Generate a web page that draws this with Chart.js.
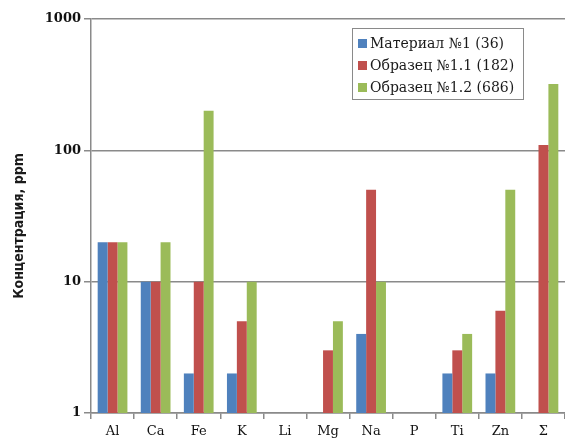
<!DOCTYPE html>
<html>
<head>
<meta charset="utf-8">
<script src="https://cdn.jsdelivr.net/npm/chart.js@4.4.0/dist/chart.umd.min.js"></script>
<style>
  html, body { margin: 0; padding: 0; background: #fff; }
  #wrap { width: 565px; height: 441px; }
</style>
</head>
<body>
<div id="wrap"><canvas id="chart" width="565" height="441"></canvas></div>
<script>
// Element concentrations, ppm (log scale)
const elements = ['Al', 'Ca', 'Fe', 'K', 'Li', 'Mg', 'Na', 'P', 'Ti', 'Zn', 'Σ'];
const material1 = [20, 10, 2, 2, null, null, 4, null, 2, 2, null];
const sample11 = [20, 10, 10, 5, null, 3, 50, null, 3, 6, 110];
const sample12 = [20, 20, 200, 10, null, 5, 10, null, 4, 50, 320];
const seriesNames = ['Материал №1 (36)', 'Образец №1.1 (182)', 'Образец №1.2 (686)'];
const decadeTicks = [1, 10, 100, 1000];
const axisTitle = 'Концентрация, ppm';

const gridColor = '#8a8a8a';
const serif = "'DejaVu Serif', 'Liberation Serif', serif";
const narrow = "'Liberation Sans Narrow', 'DejaVu Sans Condensed', sans-serif";

// Boxed legend inside the plot (top right) and the rotated y-axis title
const extras = {
    id: 'extras',
    afterDraw(chart) {
        const ctx = chart.ctx;
        const x = 352, y = 28, w = 171, h = 71;
        ctx.save();
        ctx.fillStyle = '#fff';
        ctx.fillRect(x, y, w, h);
        ctx.strokeStyle = '#8a8a8a';
        ctx.lineWidth = 1;
        ctx.strokeRect(x + 0.5, y + 0.5, w, h);
        ctx.font = '14px ' + serif;
        ctx.textBaseline = 'middle';
        chart.data.datasets.forEach((ds, i) => {
            const cy = 43 + i * 22;
            ctx.fillStyle = ds.backgroundColor;
            ctx.fillRect(358, cy - 4, 9, 9);
            ctx.fillStyle = '#1a1a1a';
            ctx.fillText(ds.label, 370, cy + 1);
        });

        ctx.translate(19, 226);
        ctx.rotate(-Math.PI / 2);
        ctx.textAlign = 'center';
        ctx.font = 'bold 14px ' + narrow;
        ctx.fillStyle = '#1a1a1a';
        ctx.fillText(axisTitle, 0, 0);
        ctx.restore();
    }
};

const ctx = document.getElementById('chart').getContext('2d');
new Chart(ctx, {
    type: 'bar',
    data: {
        labels: elements,
        datasets: [{
            label: seriesNames[0],
            data: material1,
            backgroundColor: '#4F81BD'
        }, {
            label: seriesNames[1],
            data: sample11,
            backgroundColor: '#C0504D'
        }, {
            label: seriesNames[2],
            data: sample12,
            backgroundColor: '#9BBB59'
        }]
    },
    options: {
        responsive: false,
        animation: false,
        layout: { padding: { top: 19, right: 0, left: 0, bottom: 0 } },
        datasets: {
            bar: { categoryPercentage: 0.69, barPercentage: 1.0 }
        },
        plugins: {
            legend: { display: false },
            tooltip: { enabled: false }
        },
        scales: {
            x: {
                grid: {
                    display: true,
                    drawOnChartArea: false,
                    offset: true,
                    color: gridColor,
                    lineWidth: 1.5,
                    tickLength: 6
                },
                border: { color: gridColor, width: 1.5 },
                ticks: {
                    color: '#111',
                    font: { family: serif, size: 13 },
                    padding: 5,
                    maxRotation: 0,
                    autoSkip: false
                },
                afterFit(scale) { scale.height = 28; }
            },
            y: {
                type: 'logarithmic',
                min: 1,
                max: 1000,
                afterBuildTicks(scale) {
                    scale.ticks = decadeTicks.map(v => ({ value: v }));
                },
                grid: {
                    color: gridColor,
                    lineWidth: 1.5,
                    tickLength: 7
                },
                border: { color: gridColor, width: 1.5 },
                ticks: {
                    color: '#111',
                    font: { family: serif, size: 13, weight: 'bold' },
                    padding: 3,
                    callback: v => String(v)
                },
                afterFit(scale) { scale.width = 91; }
            }
        }
    },
    plugins: [extras]
});
</script>
</body>
</html>
